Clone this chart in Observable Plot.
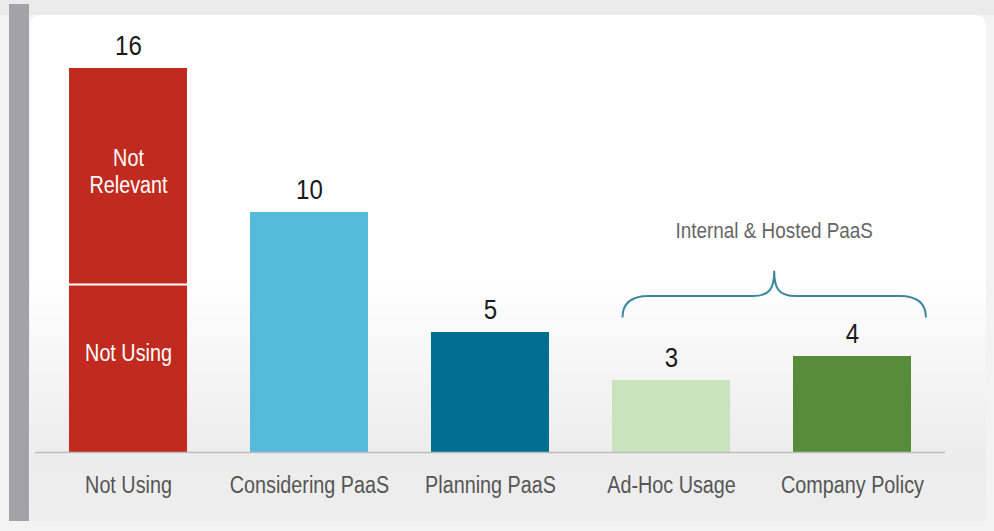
<!DOCTYPE html>
<html>
<head>
<meta charset="utf-8">
<script src="https://cdn.jsdelivr.net/npm/d3@7"></script>
<script src="https://cdn.jsdelivr.net/npm/@observablehq/plot@0.6"></script>
<style>
  html, body { margin: 0; padding: 0; background: #f3f3f3; }
  #wrap { position: relative; width: 994px; height: 531px; overflow: hidden; background: #f3f3f3; }
  #topband { position: absolute; left: 0; top: 0; width: 994px; height: 15px; background: #ebebeb; }
  #strip { position: absolute; left: 9px; top: 4px; width: 20px; height: 517px; background: #a3a3a7; }
  #panel { position: absolute; left: 30px; top: 15px; width: 956px; height: 506px; border-radius: 11px 11px 0 0;
           background: linear-gradient(to bottom, #ffffff 0%, #ffffff 52%, #f4f4f4 72%, #ececec 88%, #eeeeee 100%); }
  #chart { position: absolute; left: 0; top: 0; }
  #chart svg { background: transparent !important; overflow: visible; }
</style>
</head>
<body>
<div id="wrap">
  <div id="topband"></div>
  <div id="strip"></div>
  <div id="panel"></div>
  <div id="chart"></div>
</div>
<script>
// ---- data ----
const categories = ["Not Using", "Considering PaaS", "Planning PaaS", "Ad-Hoc Usage", "Company Policy"];
const totals = [16, 10, 5, 3, 4];
const segCategory = ["Not Using", "Not Using"];
const segLabels = ["Not Using", "Not\nRelevant"];
const segValues = [7, 9];
const groupLabel = "Internal & Hosted PaaS";
const groupSpan = ["Ad-Hoc Usage", "Company Policy"];
const braceLevels = [5.6, 6.5, 7.55]; // end, arm, tip (data units)
const groupLabelY = 9.15;

// ---- tables ----
const bars = categories.map((c, i) => ({cat: c, value: totals[i]}));
let acc = 0;
const segs = segValues.map((v, i) => {
  const y1 = acc; acc += v;
  return {cat: segCategory[i], y1, y2: acc, label: segLabels[i], mid: (y1 + acc) / 2};
});
const singleBars = bars.filter(d => d.cat !== "Not Using");

const font = "'Liberation Sans', Arial, sans-serif";

const chart = Plot.plot({
  width: 994,
  height: 531,
  marginTop: 68,
  marginBottom: 79,
  marginLeft: 35,
  marginRight: 49,
  style: {fontFamily: font, background: "transparent"},
  x: {domain: categories, range: [67, 914], paddingInner: 0.346, paddingOuter: 0, label: null},
  y: {domain: [0, 16], axis: null},
  color: {domain: categories, range: ["#c12b1f", "#55bada", "#006e90", "#c9e4bd", "#568b39"]},
  marks: [
    Plot.barY(segs, {x: "cat", y1: "y1", y2: "y2", fill: d => d.cat}),
    Plot.barY(singleBars, {x: "cat", y: "value", fill: "cat"}),
    Plot.tickY(segs.slice(0, 1), {x: "cat", y: "y2", stroke: "white", strokeWidth: 2}),
    Plot.text(segs.slice(0, 1), {x: "cat", y: "mid", text: "label", fill: "white", fontSize: 23, dy: -15}),
    Plot.text(segs.slice(1), {x: "cat", y: "mid", text: "label", fill: "white", fontSize: 23, lineHeight: 1.18, dy: -6}),
    Plot.text(bars, {x: "cat", y: "value", text: d => String(d.value), fill: "#1a1a1a", fontSize: 28,
                     lineAnchor: "bottom", dy: -14}),
    Plot.ruleY([0], {stroke: "#bdbdbd", strokeWidth: 1.5}),
    Plot.axisX({tickSize: 0, tickPadding: 24, fontSize: 23, color: "#555", label: null})
  ]
});
document.getElementById("chart").appendChild(chart);

// ---- brace annotation derived from the plot's scales ----
const sx = chart.scale("x"), sy = chart.scale("y");
const xs = d3.scaleBand().domain(sx.domain).range(sx.range)
  .paddingInner(sx.paddingInner ?? 0.346).paddingOuter(sx.paddingOuter ?? 0).align(sx.align ?? 0.5);
const ys = d3.scaleLinear().domain(sy.domain).range(sy.range);
const bw = xs.bandwidth();
const xL = xs(groupSpan[0]) + 0.08 * bw;
const xR = xs(groupSpan[1]) + bw + 0.1 * bw;
const xm = (xL + xR) / 2;
const yb = ys(braceLevels[0]), yh = ys(braceLevels[1]), yt = ys(braceLevels[2]);
const r = 0.22 * bw, r2 = 0.18 * bw;
const p = `M${xL},${yb} Q${xL},${yh} ${xL + r},${yh} L${xm - r2},${yh} C${xm - 4},${yh} ${xm},${yh - 8} ${xm},${yt}` +
          ` C${xm},${yh - 8} ${xm + 4},${yh} ${xm + r2},${yh} L${xR - r},${yh} Q${xR},${yh} ${xR},${yb}`;
const svgEl = chart.tagName.toLowerCase() === "svg" ? chart : chart.querySelector("svg");
const svg = d3.select(svgEl);
svg.append("path").attr("d", p).attr("fill", "none").attr("stroke", "#3b87a2").attr("stroke-width", 2);
svg.append("text").attr("x", xm).attr("y", ys(groupLabelY)).attr("text-anchor", "middle")
  .attr("dominant-baseline", "middle").attr("font-family", font).attr("font-size", 22)
  .attr("fill", "#666").text(groupLabel);

// condense all text horizontally (the reference uses a narrow face)
const k = 0.86;
svgEl.querySelectorAll("text").forEach(t => {
  const tr = t.getAttribute("transform");
  if (tr) {
    t.setAttribute("transform", tr + ` scale(${k},1)`);
  } else {
    const x = +t.getAttribute("x") || 0;
    t.setAttribute("transform", `translate(${x},0) scale(${k},1) translate(${-x},0)`);
  }
});
</script>
</body>
</html>
